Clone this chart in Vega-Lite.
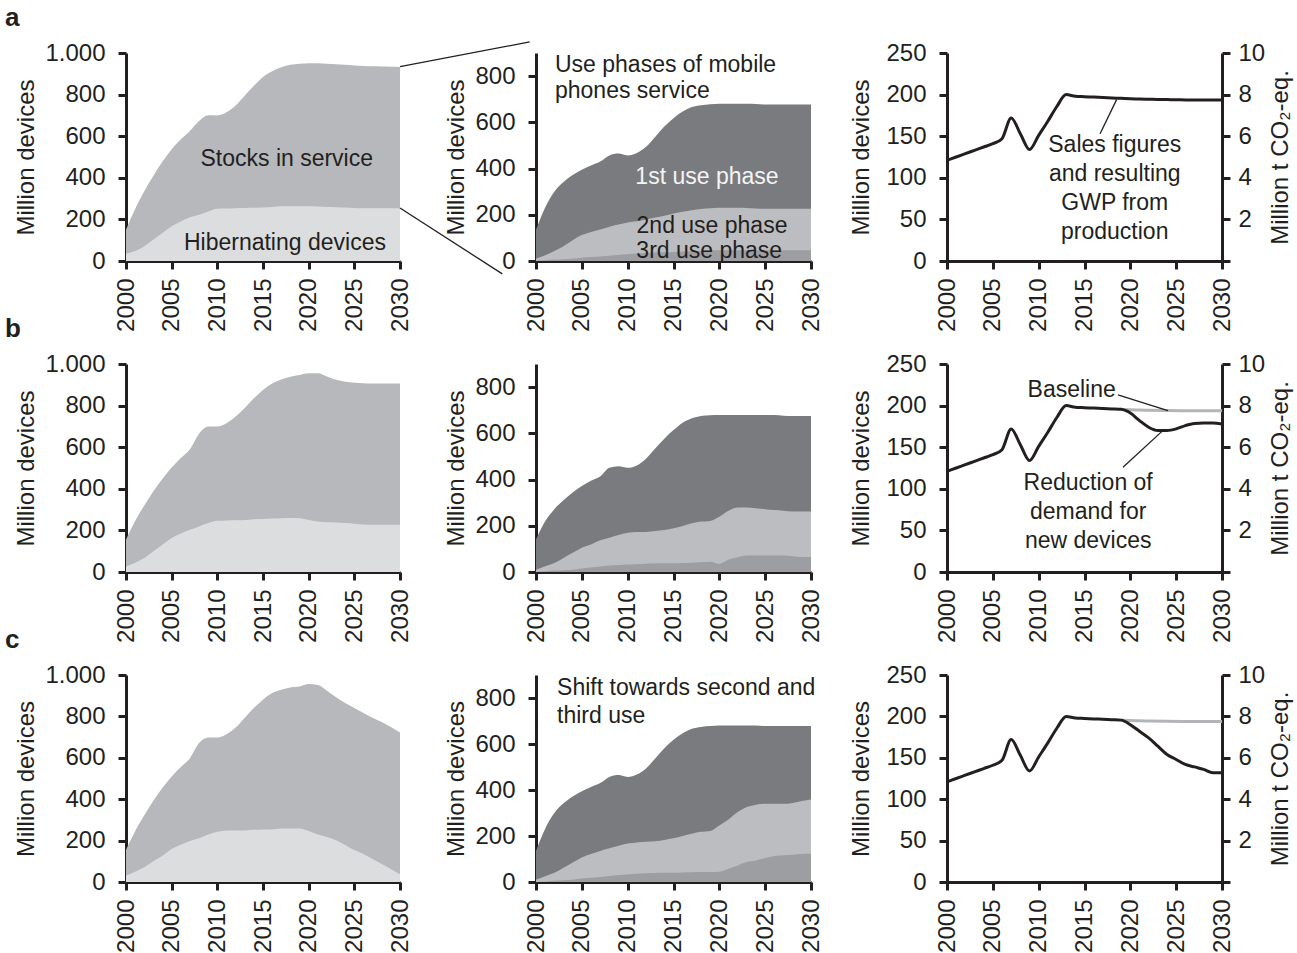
{
"$schema":"https://vega.github.io/schema/vega-lite/v6.json",
"background":"white",
"padding":5,
"config":{"view":{"stroke":null},"font":"Liberation Sans",
"axis":{"domainColor":"#231f20","domainWidth":3,"tickColor":"#231f20","tickWidth":3,"tickSize":8,"labelColor":"#231f20","labelFontSize":24,"labelFont":"Liberation Sans","titleFont":"Liberation Sans","titleFontSize":24,"titleFontWeight":"normal","titleColor":"#231f20","grid":false,"labelFlush":false,"labelOverlap":false,"labelBound":false},
"axisX":{"labelAngle":270,"labelPadding":9},
"axisY":{"labelPadding":13,"titlePadding":6},
"text":{"font":"Liberation Sans","fontSize":23,"color":"#231f20"},
"title":{"font":"Liberation Sans","fontSize":26,"fontWeight":"bold","color":"#231f20","anchor":"start","frame":"group"}},
"datasets":{
"stockA":[{"year":2000,"total":150,"hib":35},{"year":2001,"total":250,"hib":48},{"year":2002,"total":335,"hib":71},{"year":2003,"total":410,"hib":103},{"year":2004,"total":478,"hib":135},{"year":2005,"total":537,"hib":167},{"year":2006,"total":585,"hib":190},{"year":2007,"total":625,"hib":210},{"year":2008,"total":673,"hib":222},{"year":2009,"total":701,"hib":238},{"year":2010,"total":700,"hib":251},{"year":2011,"total":715,"hib":252},{"year":2012,"total":748,"hib":254},{"year":2013,"total":795,"hib":255},{"year":2014,"total":842,"hib":256},{"year":2015,"total":885,"hib":257},{"year":2016,"total":912,"hib":260},{"year":2017,"total":932,"hib":263},{"year":2018,"total":943,"hib":263},{"year":2019,"total":948,"hib":263},{"year":2020,"total":951,"hib":263},{"year":2021,"total":951,"hib":262},{"year":2022,"total":948,"hib":260},{"year":2023,"total":946,"hib":259},{"year":2024,"total":943,"hib":257},{"year":2025,"total":940,"hib":255},{"year":2026,"total":938,"hib":254},{"year":2027,"total":936,"hib":254},{"year":2028,"total":935,"hib":254},{"year":2029,"total":934,"hib":254},{"year":2030,"total":933,"hib":254}],
"stockB":[{"year":2000,"total":155,"hib":27},{"year":2001,"total":245,"hib":45},{"year":2002,"total":320,"hib":67},{"year":2003,"total":388,"hib":100},{"year":2004,"total":448,"hib":131},{"year":2005,"total":502,"hib":163},{"year":2006,"total":548,"hib":185},{"year":2007,"total":590,"hib":203},{"year":2008,"total":665,"hib":219},{"year":2009,"total":700,"hib":235},{"year":2010,"total":699,"hib":246},{"year":2011,"total":715,"hib":248},{"year":2012,"total":747,"hib":249},{"year":2013,"total":789,"hib":250},{"year":2014,"total":835,"hib":254},{"year":2015,"total":875,"hib":255},{"year":2016,"total":906,"hib":257},{"year":2017,"total":926,"hib":259},{"year":2018,"total":939,"hib":260},{"year":2019,"total":947,"hib":259},{"year":2020,"total":955,"hib":250},{"year":2021,"total":955,"hib":243},{"year":2022,"total":940,"hib":239},{"year":2023,"total":924,"hib":238},{"year":2024,"total":915,"hib":235},{"year":2025,"total":910,"hib":232},{"year":2026,"total":907,"hib":228},{"year":2027,"total":906,"hib":227},{"year":2028,"total":906,"hib":227},{"year":2029,"total":906,"hib":227},{"year":2030,"total":906,"hib":227}],
"stockC":[{"year":2000,"total":155,"hib":32},{"year":2001,"total":245,"hib":50},{"year":2002,"total":322,"hib":71},{"year":2003,"total":392,"hib":100},{"year":2004,"total":455,"hib":127},{"year":2005,"total":510,"hib":159},{"year":2006,"total":555,"hib":180},{"year":2007,"total":598,"hib":198},{"year":2008,"total":671,"hib":211},{"year":2009,"total":698,"hib":230},{"year":2010,"total":698,"hib":243},{"year":2011,"total":714,"hib":249},{"year":2012,"total":746,"hib":249},{"year":2013,"total":794,"hib":249},{"year":2014,"total":841,"hib":252},{"year":2015,"total":881,"hib":254},{"year":2016,"total":913,"hib":254},{"year":2017,"total":929,"hib":258},{"year":2018,"total":940,"hib":259},{"year":2019,"total":944,"hib":259},{"year":2020,"total":956,"hib":246},{"year":2021,"total":952,"hib":230},{"year":2022,"total":924,"hib":217},{"year":2023,"total":892,"hib":202},{"year":2024,"total":865,"hib":179},{"year":2025,"total":841,"hib":154},{"year":2026,"total":817,"hib":135},{"year":2027,"total":794,"hib":111},{"year":2028,"total":773,"hib":87},{"year":2029,"total":749,"hib":63},{"year":2030,"total":722,"hib":37}],
"useA":[{"year":2000,"total":135,"u23":10,"u3":1},{"year":2001,"total":232,"u23":25,"u3":3},{"year":2002,"total":300,"u23":43,"u3":6},{"year":2003,"total":342,"u23":64,"u3":8},{"year":2004,"total":372,"u23":90,"u3":10},{"year":2005,"total":395,"u23":112,"u3":14},{"year":2006,"total":413,"u23":126,"u3":17},{"year":2007,"total":430,"u23":136,"u3":20},{"year":2008,"total":457,"u23":148,"u3":23},{"year":2009,"total":465,"u23":158,"u3":26},{"year":2010,"total":457,"u23":167,"u3":29},{"year":2011,"total":467,"u23":172,"u3":32},{"year":2012,"total":494,"u23":180,"u3":35},{"year":2013,"total":537,"u23":188,"u3":37},{"year":2014,"total":582,"u23":196,"u3":38},{"year":2015,"total":618,"u23":206,"u3":39},{"year":2016,"total":647,"u23":213,"u3":41},{"year":2017,"total":666,"u23":220,"u3":42},{"year":2018,"total":674,"u23":225,"u3":43},{"year":2019,"total":678,"u23":228,"u3":45},{"year":2020,"total":680,"u23":230,"u3":46},{"year":2021,"total":680,"u23":230,"u3":46},{"year":2022,"total":680,"u23":230,"u3":46},{"year":2023,"total":680,"u23":229,"u3":46},{"year":2024,"total":679,"u23":227,"u3":46},{"year":2025,"total":677,"u23":226,"u3":46},{"year":2026,"total":677,"u23":226,"u3":46},{"year":2027,"total":677,"u23":226,"u3":46},{"year":2028,"total":677,"u23":226,"u3":46},{"year":2029,"total":677,"u23":226,"u3":46},{"year":2030,"total":677,"u23":226,"u3":46}],
"useB":[{"year":2000,"total":141,"u23":10,"u3":0},{"year":2001,"total":220,"u23":25,"u3":3},{"year":2002,"total":272,"u23":39,"u3":6},{"year":2003,"total":310,"u23":61,"u3":8},{"year":2004,"total":344,"u23":83,"u3":10},{"year":2005,"total":372,"u23":105,"u3":15},{"year":2006,"total":395,"u23":119,"u3":20},{"year":2007,"total":413,"u23":137,"u3":24},{"year":2008,"total":451,"u23":148,"u3":28},{"year":2009,"total":458,"u23":160,"u3":30},{"year":2010,"total":451,"u23":170,"u3":32},{"year":2011,"total":461,"u23":173,"u3":34},{"year":2012,"total":490,"u23":173,"u3":36},{"year":2013,"total":534,"u23":177,"u3":37},{"year":2014,"total":577,"u23":182,"u3":38},{"year":2015,"total":614,"u23":189,"u3":38},{"year":2016,"total":646,"u23":199,"u3":39},{"year":2017,"total":665,"u23":211,"u3":40},{"year":2018,"total":675,"u23":218,"u3":42},{"year":2019,"total":678,"u23":221,"u3":44},{"year":2020,"total":679,"u23":239,"u3":35},{"year":2021,"total":679,"u23":265,"u3":54},{"year":2022,"total":679,"u23":279,"u3":64},{"year":2023,"total":679,"u23":279,"u3":71},{"year":2024,"total":679,"u23":276,"u3":71},{"year":2025,"total":679,"u23":272,"u3":71},{"year":2026,"total":679,"u23":268,"u3":71},{"year":2027,"total":676,"u23":265,"u3":71},{"year":2028,"total":675,"u23":262,"u3":68},{"year":2029,"total":675,"u23":262,"u3":65},{"year":2030,"total":675,"u23":262,"u3":65}],
"useC":[{"year":2000,"total":135,"u23":10,"u3":0},{"year":2001,"total":232,"u23":25,"u3":2},{"year":2002,"total":300,"u23":40,"u3":5},{"year":2003,"total":342,"u23":62,"u3":8},{"year":2004,"total":372,"u23":85,"u3":10},{"year":2005,"total":395,"u23":107,"u3":15},{"year":2006,"total":413,"u23":122,"u3":18},{"year":2007,"total":430,"u23":135,"u3":22},{"year":2008,"total":457,"u23":147,"u3":26},{"year":2009,"total":465,"u23":158,"u3":30},{"year":2010,"total":457,"u23":167,"u3":33},{"year":2011,"total":467,"u23":172,"u3":36},{"year":2012,"total":494,"u23":175,"u3":38},{"year":2013,"total":537,"u23":177,"u3":39},{"year":2014,"total":582,"u23":183,"u3":40},{"year":2015,"total":618,"u23":190,"u3":40},{"year":2016,"total":647,"u23":200,"u3":41},{"year":2017,"total":666,"u23":210,"u3":42},{"year":2018,"total":674,"u23":218,"u3":43},{"year":2019,"total":678,"u23":222,"u3":44},{"year":2020,"total":680,"u23":246,"u3":45},{"year":2021,"total":680,"u23":272,"u3":58},{"year":2022,"total":680,"u23":304,"u3":72},{"year":2023,"total":680,"u23":326,"u3":87},{"year":2024,"total":680,"u23":336,"u3":94},{"year":2025,"total":678,"u23":340,"u3":104},{"year":2026,"total":678,"u23":340,"u3":113},{"year":2027,"total":678,"u23":340,"u3":116},{"year":2028,"total":678,"u23":344,"u3":119},{"year":2029,"total":678,"u23":352,"u3":122},{"year":2030,"total":678,"u23":359,"u3":123}],
"salesA":[{"year":2000,"v":121},{"year":2001,"v":125},{"year":2002,"v":129},{"year":2003,"v":133},{"year":2004,"v":137},{"year":2005,"v":141},{"year":2006,"v":147},{"year":2007,"v":172},{"year":2008,"v":153},{"year":2009,"v":134},{"year":2010,"v":151},{"year":2011,"v":168},{"year":2012,"v":186},{"year":2013,"v":200},{"year":2014,"v":198},{"year":2015,"v":197.5},{"year":2016,"v":197},{"year":2017,"v":196.5},{"year":2018,"v":196},{"year":2019,"v":195.5},{"year":2020,"v":195},{"year":2021,"v":194.7},{"year":2022,"v":194.4},{"year":2023,"v":194.2},{"year":2024,"v":194},{"year":2025,"v":193.8},{"year":2026,"v":193.6},{"year":2027,"v":193.5},{"year":2028,"v":193.5},{"year":2029,"v":193.5},{"year":2030,"v":193.5}],
"salesB":[{"year":2000,"v":121},{"year":2001,"v":125},{"year":2002,"v":129},{"year":2003,"v":133},{"year":2004,"v":137},{"year":2005,"v":141},{"year":2006,"v":147},{"year":2007,"v":172},{"year":2008,"v":153},{"year":2009,"v":134},{"year":2010,"v":151},{"year":2011,"v":168},{"year":2012,"v":186},{"year":2013,"v":200},{"year":2014,"v":198},{"year":2015,"v":197.5},{"year":2016,"v":197},{"year":2017,"v":196.5},{"year":2018,"v":196},{"year":2019,"v":195.5},{"year":2020,"v":191},{"year":2021,"v":182},{"year":2022,"v":174},{"year":2023,"v":170},{"year":2024,"v":170},{"year":2025,"v":172},{"year":2026,"v":176},{"year":2027,"v":178.5},{"year":2028,"v":179},{"year":2029,"v":179},{"year":2030,"v":178}],
"salesC":[{"year":2000,"v":121},{"year":2001,"v":125},{"year":2002,"v":129},{"year":2003,"v":133},{"year":2004,"v":137},{"year":2005,"v":141},{"year":2006,"v":147},{"year":2007,"v":172},{"year":2008,"v":153},{"year":2009,"v":134},{"year":2010,"v":151},{"year":2011,"v":168},{"year":2012,"v":186},{"year":2013,"v":200},{"year":2014,"v":198},{"year":2015,"v":197.5},{"year":2016,"v":197},{"year":2017,"v":196.5},{"year":2018,"v":196},{"year":2019,"v":195.5},{"year":2020,"v":190},{"year":2021,"v":182},{"year":2022,"v":174},{"year":2023,"v":164},{"year":2024,"v":154},{"year":2025,"v":148},{"year":2026,"v":142},{"year":2027,"v":139},{"year":2028,"v":136},{"year":2029,"v":132},{"year":2030,"v":132}],
"baseline":[{"year":2019,"v":195.5},{"year":2020,"v":195},{"year":2021,"v":194.7},{"year":2022,"v":194.4},{"year":2024,"v":194},{"year":2027,"v":193.8},{"year":2030,"v":193.7}],
"gwpAxis":[{"year":2000,"gwp":0},{"year":2030,"gwp":10}]
},
"bounds":"flush",
"columns":3,
"spacing":{"row":103,"column":136},
"concat":[
 {"width":274,"height":208,"title":{"text":"a","dx":-121,"offset":10},
  "encoding":{"x":{"field":"year","type":"quantitative","scale":{"domain":[2000,2030],"nice":false,"zero":false},"axis":{"values":[2000,2005,2010,2015,2020,2025,2030],"format":"d"},"title":null}},
  "layer":[
   {"data":{"name":"stockA"},"mark":{"type":"area","color":"#b7b8bb","interpolate":"monotone"},"encoding":{"y":{"field":"total","type":"quantitative","scale":{"domain":[0,1000],"nice":false},"axis":{"values":[0,200,400,600,800,1000],"labelExpr":"datum.value === 1000 ? '1.000' : datum.label"},"title":"Million devices"}}},
   {"data":{"name":"stockA"},"mark":{"type":"area","color":"#dcdddf","interpolate":"monotone"},"encoding":{"y":{"field":"hib","type":"quantitative","scale":{"domain":[0,1000],"nice":false},"title":"Million devices"}}},
   {"data":{"values":[{"year":2017.6,"v":490,"label":"Stocks in service"},{"year":2017.4,"v":88,"label":"Hibernating devices"}]},"mark":{"type":"text","align":"center","baseline":"middle"},"encoding":{"y":{"field":"v","type":"quantitative","scale":{"domain":[0,1000],"nice":false},"title":"Million devices"},"text":{"field":"label"}}},
   {"data":{"values":[{"year":2030,"v":935,"year2":2044.2,"v2":1053},{"year":2030,"v":255,"year2":2041.2,"v2":-62}]},"mark":{"type":"rule","color":"#231f20","strokeWidth":1.3},"encoding":{"y":{"field":"v","type":"quantitative","scale":{"domain":[0,1000],"nice":false},"title":"Million devices"},"x2":{"field":"year2"},"y2":{"field":"v2"}}}
  ]},
 {"width":275,"height":208,
  "encoding":{"x":{"field":"year","type":"quantitative","scale":{"domain":[2000,2030],"nice":false,"zero":false},"axis":{"values":[2000,2005,2010,2015,2020,2025,2030],"format":"d"},"title":null}},
  "layer":[
   {"data":{"name":"useA"},"mark":{"type":"area","color":"#7a7b7f","interpolate":"monotone"},"encoding":{"y":{"field":"total","type":"quantitative","scale":{"domain":[0,900],"nice":false},"axis":{"values":[0,200,400,600,800]},"title":"Million devices"}}},
   {"data":{"name":"useA"},"mark":{"type":"area","color":"#bcbdc0","interpolate":"monotone"},"encoding":{"y":{"field":"u23","type":"quantitative","scale":{"domain":[0,900],"nice":false},"title":"Million devices"}}},
   {"data":{"name":"useA"},"mark":{"type":"area","color":"#9d9ea2","interpolate":"monotone"},"encoding":{"y":{"field":"u3","type":"quantitative","scale":{"domain":[0,900],"nice":false},"title":"Million devices"}}},
   {"data":{"values":[{"year":2002.07,"v":848,"label":"Use phases of mobile\nphones service"}]},"mark":{"type":"text","align":"left","baseline":"middle","lineBreak":"\n","lineHeight":26},"encoding":{"y":{"field":"v","type":"quantitative","scale":{"domain":[0,900],"nice":false},"title":"Million devices"},"text":{"field":"label"}}},
   {"data":{"values":[{"year":2018.65,"v":363,"label":"1st use phase"}]},"mark":{"type":"text","align":"center","baseline":"middle","color":"#f4f4f4"},"encoding":{"y":{"field":"v","type":"quantitative","scale":{"domain":[0,900],"nice":false},"title":"Million devices"},"text":{"field":"label"}}},
   {"data":{"values":[{"year":2019.2,"v":151,"label":"2nd use phase"},{"year":2018.9,"v":45,"label":"3rd use phase"}]},"mark":{"type":"text","align":"center","baseline":"middle"},"encoding":{"y":{"field":"v","type":"quantitative","scale":{"domain":[0,900],"nice":false},"title":"Million devices"},"text":{"field":"label"}}}
  ]},
 {"width":275,"height":208,
  "layer":[
   {"encoding":{"x":{"field":"year","type":"quantitative","scale":{"domain":[2000,2030],"nice":false,"zero":false},"axis":{"values":[2000,2005,2010,2015,2020,2025,2030],"format":"d"},"title":null}},
    "layer":[
     {"data":{"name":"salesA"},"mark":{"type":"line","color":"#231f20","strokeWidth":3,"interpolate":"monotone"},"encoding":{"y":{"field":"v","type":"quantitative","scale":{"domain":[0,250],"nice":false},"axis":{"values":[0,50,100,150,200,250],"titlePadding":12},"title":"Million devices"}}},
     {"data":{"values":[{"year":2016.7,"v":153,"year2":2018.5,"v2":194}]},"mark":{"type":"rule","color":"#231f20","strokeWidth":1.3},"encoding":{"y":{"field":"v","type":"quantitative","scale":{"domain":[0,250],"nice":false},"title":"Million devices"},"x2":{"field":"year2"},"y2":{"field":"v2"}}},
     {"data":{"values":[{"year":2018.3,"v":139,"label":"Sales figures\nand resulting\nGWP from\nproduction"}]},"mark":{"type":"text","align":"center","baseline":"middle","lineBreak":"\n","lineHeight":29},"encoding":{"y":{"field":"v","type":"quantitative","scale":{"domain":[0,250],"nice":false},"title":"Million devices"},"text":{"field":"label"}}}
    ]},
   {"data":{"name":"gwpAxis"},"mark":{"type":"point","opacity":0},"encoding":{"x":{"field":"year","type":"quantitative","scale":{"domain":[2000,2030],"nice":false,"zero":false},"title":null},"y":{"field":"gwp","type":"quantitative","scale":{"domain":[0,10],"nice":false},"axis":{"orient":"right","values":[0,2,4,6,8,10],"labelExpr":"datum.value === 0 ? '' : datum.label","labelPadding":8,"titleAngle":270,"titleBaseline":"top","titlePadding":4},"title":"Million t CO₂-eq."}}}
  ],
  "resolve":{"scale":{"y":"independent"}}},
 {"width":274,"height":208,"title":{"text":"b","dx":-121,"offset":10},
  "encoding":{"x":{"field":"year","type":"quantitative","scale":{"domain":[2000,2030],"nice":false,"zero":false},"axis":{"values":[2000,2005,2010,2015,2020,2025,2030],"format":"d"},"title":null}},
  "layer":[
   {"data":{"name":"stockB"},"mark":{"type":"area","color":"#b7b8bb","interpolate":"monotone"},"encoding":{"y":{"field":"total","type":"quantitative","scale":{"domain":[0,1000],"nice":false},"axis":{"values":[0,200,400,600,800,1000],"labelExpr":"datum.value === 1000 ? '1.000' : datum.label"},"title":"Million devices"}}},
   {"data":{"name":"stockB"},"mark":{"type":"area","color":"#dcdddf","interpolate":"monotone"},"encoding":{"y":{"field":"hib","type":"quantitative","scale":{"domain":[0,1000],"nice":false},"title":"Million devices"}}}
  ]},
 {"width":275,"height":208,
  "encoding":{"x":{"field":"year","type":"quantitative","scale":{"domain":[2000,2030],"nice":false,"zero":false},"axis":{"values":[2000,2005,2010,2015,2020,2025,2030],"format":"d"},"title":null}},
  "layer":[
   {"data":{"name":"useB"},"mark":{"type":"area","color":"#7a7b7f","interpolate":"monotone"},"encoding":{"y":{"field":"total","type":"quantitative","scale":{"domain":[0,900],"nice":false},"axis":{"values":[0,200,400,600,800]},"title":"Million devices"}}},
   {"data":{"name":"useB"},"mark":{"type":"area","color":"#bcbdc0","interpolate":"monotone"},"encoding":{"y":{"field":"u23","type":"quantitative","scale":{"domain":[0,900],"nice":false},"title":"Million devices"}}},
   {"data":{"name":"useB"},"mark":{"type":"area","color":"#9d9ea2","interpolate":"monotone"},"encoding":{"y":{"field":"u3","type":"quantitative","scale":{"domain":[0,900],"nice":false},"title":"Million devices"}}}
  ]},
 {"width":275,"height":208,
  "layer":[
   {"encoding":{"x":{"field":"year","type":"quantitative","scale":{"domain":[2000,2030],"nice":false,"zero":false},"axis":{"values":[2000,2005,2010,2015,2020,2025,2030],"format":"d"},"title":null}},
    "layer":[
     {"data":{"name":"baseline"},"mark":{"type":"line","color":"#b4b5b8","strokeWidth":3,"interpolate":"monotone"},"encoding":{"y":{"field":"v","type":"quantitative","scale":{"domain":[0,250],"nice":false},"axis":{"values":[0,50,100,150,200,250],"titlePadding":12},"title":"Million devices"}}},
     {"data":{"name":"salesB"},"mark":{"type":"line","color":"#231f20","strokeWidth":3,"interpolate":"monotone"},"encoding":{"y":{"field":"v","type":"quantitative","scale":{"domain":[0,250],"nice":false},"title":"Million devices"}}},
     {"data":{"values":[{"year":2018.65,"v":213,"year2":2024.1,"v2":194},{"year":2019.2,"v":126,"year2":2023.45,"v2":169}]},"mark":{"type":"rule","color":"#231f20","strokeWidth":1.3},"encoding":{"y":{"field":"v","type":"quantitative","scale":{"domain":[0,250],"nice":false},"title":"Million devices"},"x2":{"field":"year2"},"y2":{"field":"v2"}}},
     {"data":{"values":[{"year":2013.6,"v":219,"label":"Baseline"},{"year":2015.4,"v":107,"label":"Reduction of\ndemand for\nnew devices"}]},"mark":{"type":"text","align":"center","baseline":"middle","lineBreak":"\n","lineHeight":29},"encoding":{"y":{"field":"v","type":"quantitative","scale":{"domain":[0,250],"nice":false},"title":"Million devices"},"text":{"field":"label"}}}
    ]},
   {"data":{"name":"gwpAxis"},"mark":{"type":"point","opacity":0},"encoding":{"x":{"field":"year","type":"quantitative","scale":{"domain":[2000,2030],"nice":false,"zero":false},"title":null},"y":{"field":"gwp","type":"quantitative","scale":{"domain":[0,10],"nice":false},"axis":{"orient":"right","values":[0,2,4,6,8,10],"labelExpr":"datum.value === 0 ? '' : datum.label","labelPadding":8,"titleAngle":270,"titleBaseline":"top","titlePadding":4},"title":"Million t CO₂-eq."}}}
  ],
  "resolve":{"scale":{"y":"independent"}}},
 {"width":274,"height":207,"title":{"text":"c","dx":-121,"offset":10},
  "encoding":{"x":{"field":"year","type":"quantitative","scale":{"domain":[2000,2030],"nice":false,"zero":false},"axis":{"values":[2000,2005,2010,2015,2020,2025,2030],"format":"d"},"title":null}},
  "layer":[
   {"data":{"name":"stockC"},"mark":{"type":"area","color":"#b7b8bb","interpolate":"monotone"},"encoding":{"y":{"field":"total","type":"quantitative","scale":{"domain":[0,1000],"nice":false},"axis":{"values":[0,200,400,600,800,1000],"labelExpr":"datum.value === 1000 ? '1.000' : datum.label"},"title":"Million devices"}}},
   {"data":{"name":"stockC"},"mark":{"type":"area","color":"#dcdddf","interpolate":"monotone"},"encoding":{"y":{"field":"hib","type":"quantitative","scale":{"domain":[0,1000],"nice":false},"title":"Million devices"}}}
  ]},
 {"width":275,"height":207,
  "encoding":{"x":{"field":"year","type":"quantitative","scale":{"domain":[2000,2030],"nice":false,"zero":false},"axis":{"values":[2000,2005,2010,2015,2020,2025,2030],"format":"d"},"title":null}},
  "layer":[
   {"data":{"name":"useC"},"mark":{"type":"area","color":"#7a7b7f","interpolate":"monotone"},"encoding":{"y":{"field":"total","type":"quantitative","scale":{"domain":[0,900],"nice":false},"axis":{"values":[0,200,400,600,800]},"title":"Million devices"}}},
   {"data":{"name":"useC"},"mark":{"type":"area","color":"#bcbdc0","interpolate":"monotone"},"encoding":{"y":{"field":"u23","type":"quantitative","scale":{"domain":[0,900],"nice":false},"title":"Million devices"}}},
   {"data":{"name":"useC"},"mark":{"type":"area","color":"#9d9ea2","interpolate":"monotone"},"encoding":{"y":{"field":"u3","type":"quantitative","scale":{"domain":[0,900],"nice":false},"title":"Million devices"}}},
   {"data":{"values":[{"year":2002.3,"v":843,"label":"Shift towards second and\nthird use"}]},"mark":{"type":"text","align":"left","baseline":"middle","lineBreak":"\n","lineHeight":28},"encoding":{"y":{"field":"v","type":"quantitative","scale":{"domain":[0,900],"nice":false},"title":"Million devices"},"text":{"field":"label"}}}
  ]},
 {"width":275,"height":207,
  "layer":[
   {"encoding":{"x":{"field":"year","type":"quantitative","scale":{"domain":[2000,2030],"nice":false,"zero":false},"axis":{"values":[2000,2005,2010,2015,2020,2025,2030],"format":"d"},"title":null}},
    "layer":[
     {"data":{"name":"baseline"},"mark":{"type":"line","color":"#b4b5b8","strokeWidth":3,"interpolate":"monotone"},"encoding":{"y":{"field":"v","type":"quantitative","scale":{"domain":[0,250],"nice":false},"axis":{"values":[0,50,100,150,200,250],"titlePadding":12},"title":"Million devices"}}},
     {"data":{"name":"salesC"},"mark":{"type":"line","color":"#231f20","strokeWidth":3,"interpolate":"monotone"},"encoding":{"y":{"field":"v","type":"quantitative","scale":{"domain":[0,250],"nice":false},"title":"Million devices"}}}
    ]},
   {"data":{"name":"gwpAxis"},"mark":{"type":"point","opacity":0},"encoding":{"x":{"field":"year","type":"quantitative","scale":{"domain":[2000,2030],"nice":false,"zero":false},"title":null},"y":{"field":"gwp","type":"quantitative","scale":{"domain":[0,10],"nice":false},"axis":{"orient":"right","values":[0,2,4,6,8,10],"labelExpr":"datum.value === 0 ? '' : datum.label","labelPadding":8,"titleAngle":270,"titleBaseline":"top","titlePadding":4},"title":"Million t CO₂-eq."}}}
  ],
  "resolve":{"scale":{"y":"independent"}}}
]
}
